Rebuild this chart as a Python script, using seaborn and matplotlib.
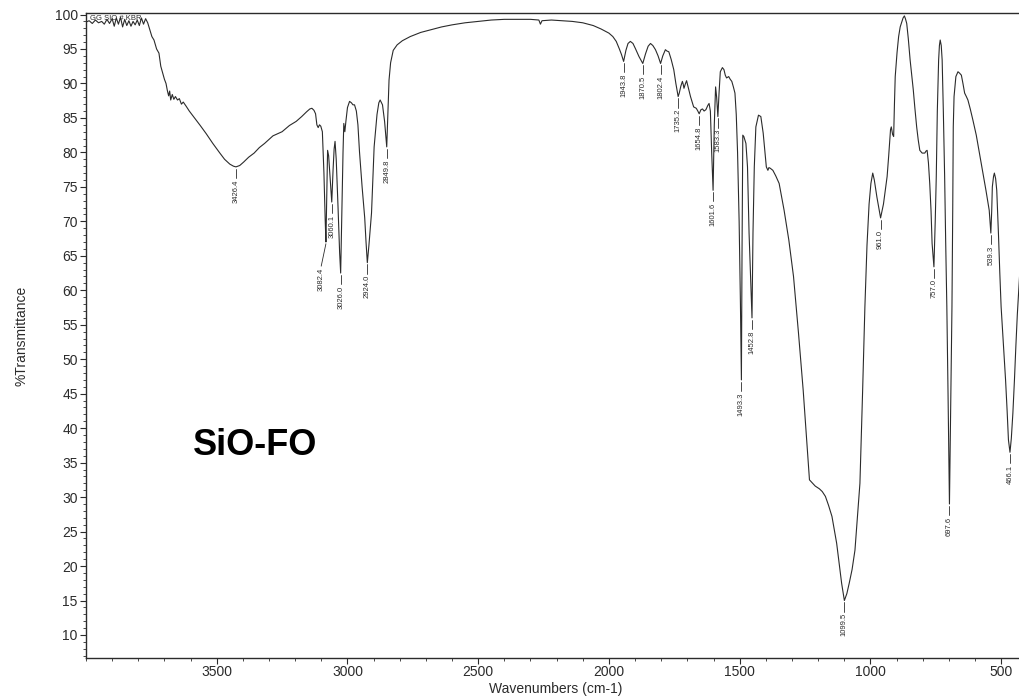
import numpy as np
import pandas as pd
import matplotlib
matplotlib.use("Agg")
import matplotlib.pyplot as plt
import seaborn as sns
from matplotlib.ticker import FixedLocator, MultipleLocator

# ---------------- data ----------------
wavenumber = [
    4000, 3988, 3976, 3964, 3952, 3940, 3930, 3920, 3910, 3900, 3892, 3884, 3876, 3868,
    3860, 3852, 3844, 3836, 3828, 3820, 3812, 3804, 3796, 3788, 3780, 3772, 3764, 3756,
    3748, 3740, 3730, 3721, 3714, 3708, 3700, 3694, 3689, 3684, 3680, 3676, 3670, 3664,
    3658, 3650, 3643, 3635, 3628, 3617, 3605, 3585, 3563, 3540, 3515, 3488, 3470, 3450,
    3436, 3426.4, 3412, 3397, 3378, 3357, 3337, 3317, 3285, 3250, 3222, 3196, 3175, 3156,
    3144, 3136, 3128, 3122, 3117, 3112, 3107, 3102, 3096, 3090, 3085, 3082.4, 3079, 3076,
    3072, 3066, 3060.1, 3055, 3051, 3047.5, 3043, 3036, 3030, 3026.0, 3021, 3017, 3014,
    3010, 3006, 3000, 2992, 2985, 2979, 2973, 2966, 2960, 2954, 2944, 2934, 2929, 2924.0,
    2918, 2908, 2898, 2887, 2880, 2875, 2866, 2858, 2849.8, 2845, 2841, 2835, 2825, 2810,
    2790, 2760, 2720, 2680, 2640, 2600, 2550, 2500, 2450, 2400, 2350, 2300, 2268, 2262,
    2256, 2220, 2180, 2140, 2100, 2060, 2030, 2000, 1985, 1972, 1960, 1952, 1943.8, 1935,
    1927, 1918, 1908, 1898, 1885, 1870.5, 1860, 1850, 1841, 1832, 1822, 1812, 1802.4,
    1794, 1784, 1778, 1771, 1762, 1752, 1744, 1735.2, 1731, 1725, 1719, 1716, 1713, 1708,
    1703, 1695, 1688, 1676, 1666, 1660, 1654.8, 1648, 1642, 1636, 1629, 1622, 1617, 1612,
    1607, 1601.6, 1597, 1592, 1588, 1583.3, 1579, 1574, 1566, 1560, 1555, 1550, 1542, 1536,
    1530, 1524, 1518, 1513, 1508, 1502, 1497, 1493.3, 1491, 1488, 1484, 1476, 1470, 1464,
    1452.8, 1449, 1444, 1438, 1428, 1419, 1410, 1398, 1392, 1388, 1383, 1373, 1362, 1349,
    1330, 1312, 1294, 1275, 1257, 1245, 1233, 1211, 1195, 1184, 1172, 1160, 1147, 1129,
    1110, 1099.5, 1090, 1081, 1070, 1059, 1040, 1030, 1021, 1013, 1005, 998, 991, 985, 975,
    961.0, 950, 943, 936, 930, 923, 920, 915, 911, 908, 905, 898, 892, 886, 880, 875, 870,
    866, 861, 855, 848, 842, 836, 830, 823, 817, 811, 802, 792, 787, 783, 778, 773, 768,
    764, 757.0, 752, 748, 744, 739, 736, 733, 729, 725.5, 721, 716, 712, 707.6, 703, 697.6,
    692, 688, 685, 683, 680, 673, 665, 659, 652, 646, 639.5, 633, 627, 618, 608, 595, 583,
    570, 558, 545.5, 539.3, 536, 533.6, 529, 525.8, 521, 516.7, 510, 505, 500, 491, 483,
    477, 472, 466.1, 461, 455, 449, 443.7, 438, 432.5, 428,
]
transmittance = [
    98.9, 99.1, 98.7, 99.2, 98.8, 99.0, 98.6, 99.3, 98.7, 99.4, 98.3, 99.5, 98.6, 99.6,
    98.2, 99.3, 98.4, 99.1, 98.3, 99.0, 98.5, 99.2, 98.4, 99.5, 98.6, 99.4, 98.8, 97.8,
    96.8, 96.3, 95.0, 94.4, 92.5, 91.7, 90.6, 90.0, 89.0, 88.2, 88.9, 87.6, 88.4, 87.7,
    88.1, 87.6, 87.8, 87.0, 87.3, 86.7, 86.0, 85.0, 83.9, 82.7, 81.3, 79.9, 79.0, 78.3,
    78.0, 77.9, 78.1, 78.6, 79.3, 79.9, 80.7, 81.3, 82.4, 83.0, 83.9, 84.5, 85.2, 85.9,
    86.3, 86.4, 86.1, 85.6, 84.0, 83.6, 84.0, 83.8, 83.0, 77.0, 70.0, 67.0, 74.0, 80.3,
    79.5, 76.0, 72.8, 77.5, 80.5, 81.6, 79.0, 72.0, 65.5, 62.5, 72.0, 80.0, 84.2,
    83.0, 84.5, 86.5, 87.4, 87.2, 86.9, 86.9, 86.0, 84.0, 80.1, 75.0, 70.5, 67.0, 64.0,
    66.5, 71.2, 80.8, 85.5, 87.2, 87.6, 86.9, 84.5, 80.8, 86.0, 90.5, 93.0, 94.8, 95.6,
    96.2, 96.8, 97.4, 97.8, 98.2, 98.5, 98.8, 99.0, 99.2, 99.3, 99.3, 99.3, 99.2, 98.6,
    99.1, 99.2, 99.1, 99.0, 98.8, 98.4, 97.9, 97.3, 96.8, 96.1, 95.0, 94.2, 93.2, 94.8,
    95.8, 96.1, 95.8, 95.0, 93.9, 92.9, 94.3, 95.4, 95.8, 95.5, 94.9, 94.0, 92.9,
    94.0, 94.9, 94.7, 94.6, 93.5, 92.0, 90.0, 88.1, 88.6, 89.6, 90.3, 89.9, 89.3, 89.9,
    90.4, 89.2, 88.1, 86.6, 86.4, 86.0, 85.6, 86.2, 86.3, 86.0, 86.2, 86.8, 87.1, 86.0,
    80.0, 74.5, 84.0, 89.5, 88.0, 85.2, 88.5, 91.7, 92.3, 92.0, 91.2, 90.8, 91.0, 90.6,
    90.3, 89.5, 88.6, 85.5, 80.0, 70.0, 58.0, 47.0, 65.0, 82.5, 82.3, 81.3, 77.9, 68.3,
    56.0, 68.3, 77.9, 83.7, 85.4, 85.2, 82.8, 77.9, 77.4, 77.8, 77.7, 77.4, 76.6, 75.5,
    71.6, 67.3, 62.0, 53.8, 45.5, 39.0, 32.5, 31.6, 31.2, 30.8, 30.1, 28.8, 27.2, 23.3,
    17.5, 15.0, 16.0, 17.5, 19.5, 22.3, 32.0, 45.0, 57.6, 66.5, 72.5, 75.5, 77.0, 76.0, 73.5,
    70.5, 72.5, 74.5, 76.5, 79.5, 83.3, 83.7, 82.6, 82.3, 87.0, 91.0, 94.5, 96.8, 98.2, 98.9, 99.5, 99.8,
    99.4, 98.7, 96.5, 93.4, 91.2, 89.1, 86.5, 83.7, 81.8, 80.3, 79.9, 79.9, 80.2, 80.3, 78.5, 75.5, 71.5,
    66.8, 63.4, 70.0, 76.5, 86.0, 93.4, 95.5, 96.3, 95.5, 93.4, 86.0, 76.5, 67.0, 57.6, 45.0, 29.0,
    45.0, 57.6, 72.0, 83.7, 88.1, 91.0, 91.7, 91.5, 91.2, 90.0, 88.6, 88.1, 87.6, 86.3, 84.7, 82.5, 79.9,
    77.0, 74.5, 71.6, 68.3, 71.5, 75.0, 76.5, 77.0, 76.2, 74.5, 68.0, 62.5, 57.6, 52.0, 47.0,
    42.5, 38.3, 36.5, 38.5, 42.2, 47.0, 51.8, 56.5, 60.0, 63.0,
]
peak_wavenumbers = [3426.4, 3082.4, 3060.1, 3026.0, 2924.0, 2849.8, 1943.8, 1870.5,
                    1802.4, 1735.2, 1654.8, 1601.6, 1583.3, 1493.3, 1452.8, 1099.5,
                    961.0, 757.0, 697.6, 539.3, 466.1]
peak_labels = ["3426.4", "3082.4", "3060.1", "3026.0", "2924.0", "2849.8", "1943.8",
               "1870.5", "1802.4", "1735.2", "1654.8", "1601.6", "1583.3", "1493.3",
               "1452.8", "1099.5", "961.0", "757.0", "697.6", "539.3", "466.1"]
x_ticks = [3500, 3000, 2500, 2000, 1500, 1000, 500]
y_ticks = [10, 15, 20, 25, 30, 35, 40, 45, 50, 55, 60, 65, 70, 75, 80, 85, 90, 95, 100]
sample_name = "SiO-FO"
header_text = "GG SIO # KBR"
x_label = "Wavenumbers (cm-1)"
y_label = "%Transmittance"

# ---------------- styling ----------------
sns.set_theme(style="ticks")
plt.rcParams['font.family'] = ['Liberation Sans', 'DejaVu Sans']
ink = "#2b2b2b"

fig = plt.figure(figsize=(10.19, 6.97), dpi=100)
ax = fig.add_axes([86 / 1019, 39 / 697, 933 / 1019, 645 / 697])

df = pd.DataFrame({"wn": wavenumber, "T": transmittance})
sns.lineplot(data=df, x="wn", y="T", ax=ax, color=ink, linewidth=0.8,
             estimator=None, sort=False)

ax.set_xlim(4000, 431.6)
ax.set_ylim(6.66, 100.22)
ax.xaxis.set_major_locator(FixedLocator(x_ticks))
ax.xaxis.set_minor_locator(MultipleLocator(100))
ax.yaxis.set_major_locator(FixedLocator(y_ticks))
ax.yaxis.set_minor_locator(MultipleLocator(1))
ax.tick_params(axis="both", which="major", direction="out", length=4, width=0.8,
               colors=ink, labelsize=10, pad=2)
ax.tick_params(axis="x", which="major", pad=1)
ax.tick_params(axis="both", which="minor", direction="out", length=2.5, width=0.6,
               colors=ink)
for side in ["left", "bottom", "top"]:
    ax.spines[side].set_color(ink)
    ax.spines[side].set_linewidth(1.0)
ax.spines["right"].set_visible(False)

ax.set_xlabel(x_label, fontsize=10, color=ink)
ax.set_ylabel(y_label, fontsize=10, color=ink)
ax.xaxis.set_label_coords(0.503, -0.037)
ax.yaxis.set_label_coords(-0.062, 0.5)

# peak annotations
wn_arr = np.array(wavenumber)[::-1]
t_arr = np.array(transmittance)[::-1]
label_shift = {"3082.4": 18.0}
label_drop = {"3082.4": 3.5}
for wn, lab in zip(peak_wavenumbers, peak_labels):
    t = float(np.interp(wn, wn_arr, t_arr))
    dx = label_shift.get(lab, 0.0)
    drop = label_drop.get(lab, 1.6)
    ax.plot([wn, wn + dx], [t - 0.25, t - drop], color=ink, linewidth=0.6)
    ax.text(wn + dx, t - drop - 0.2, lab, rotation=90, ha="center", va="top",
            fontsize=5.5, color=ink)

ax.text(0.004, 0.997, header_text, transform=ax.transAxes, fontsize=5.5,
        ha="left", va="top", color=ink)
ax.text(0.181, 0.330, sample_name, transform=ax.transAxes, fontsize=26,
        fontweight="bold", family=["Liberation Sans", "DejaVu Sans"], ha="center",
        va="center", color="black")

fig.savefig("out.png", dpi=100, facecolor="white")
